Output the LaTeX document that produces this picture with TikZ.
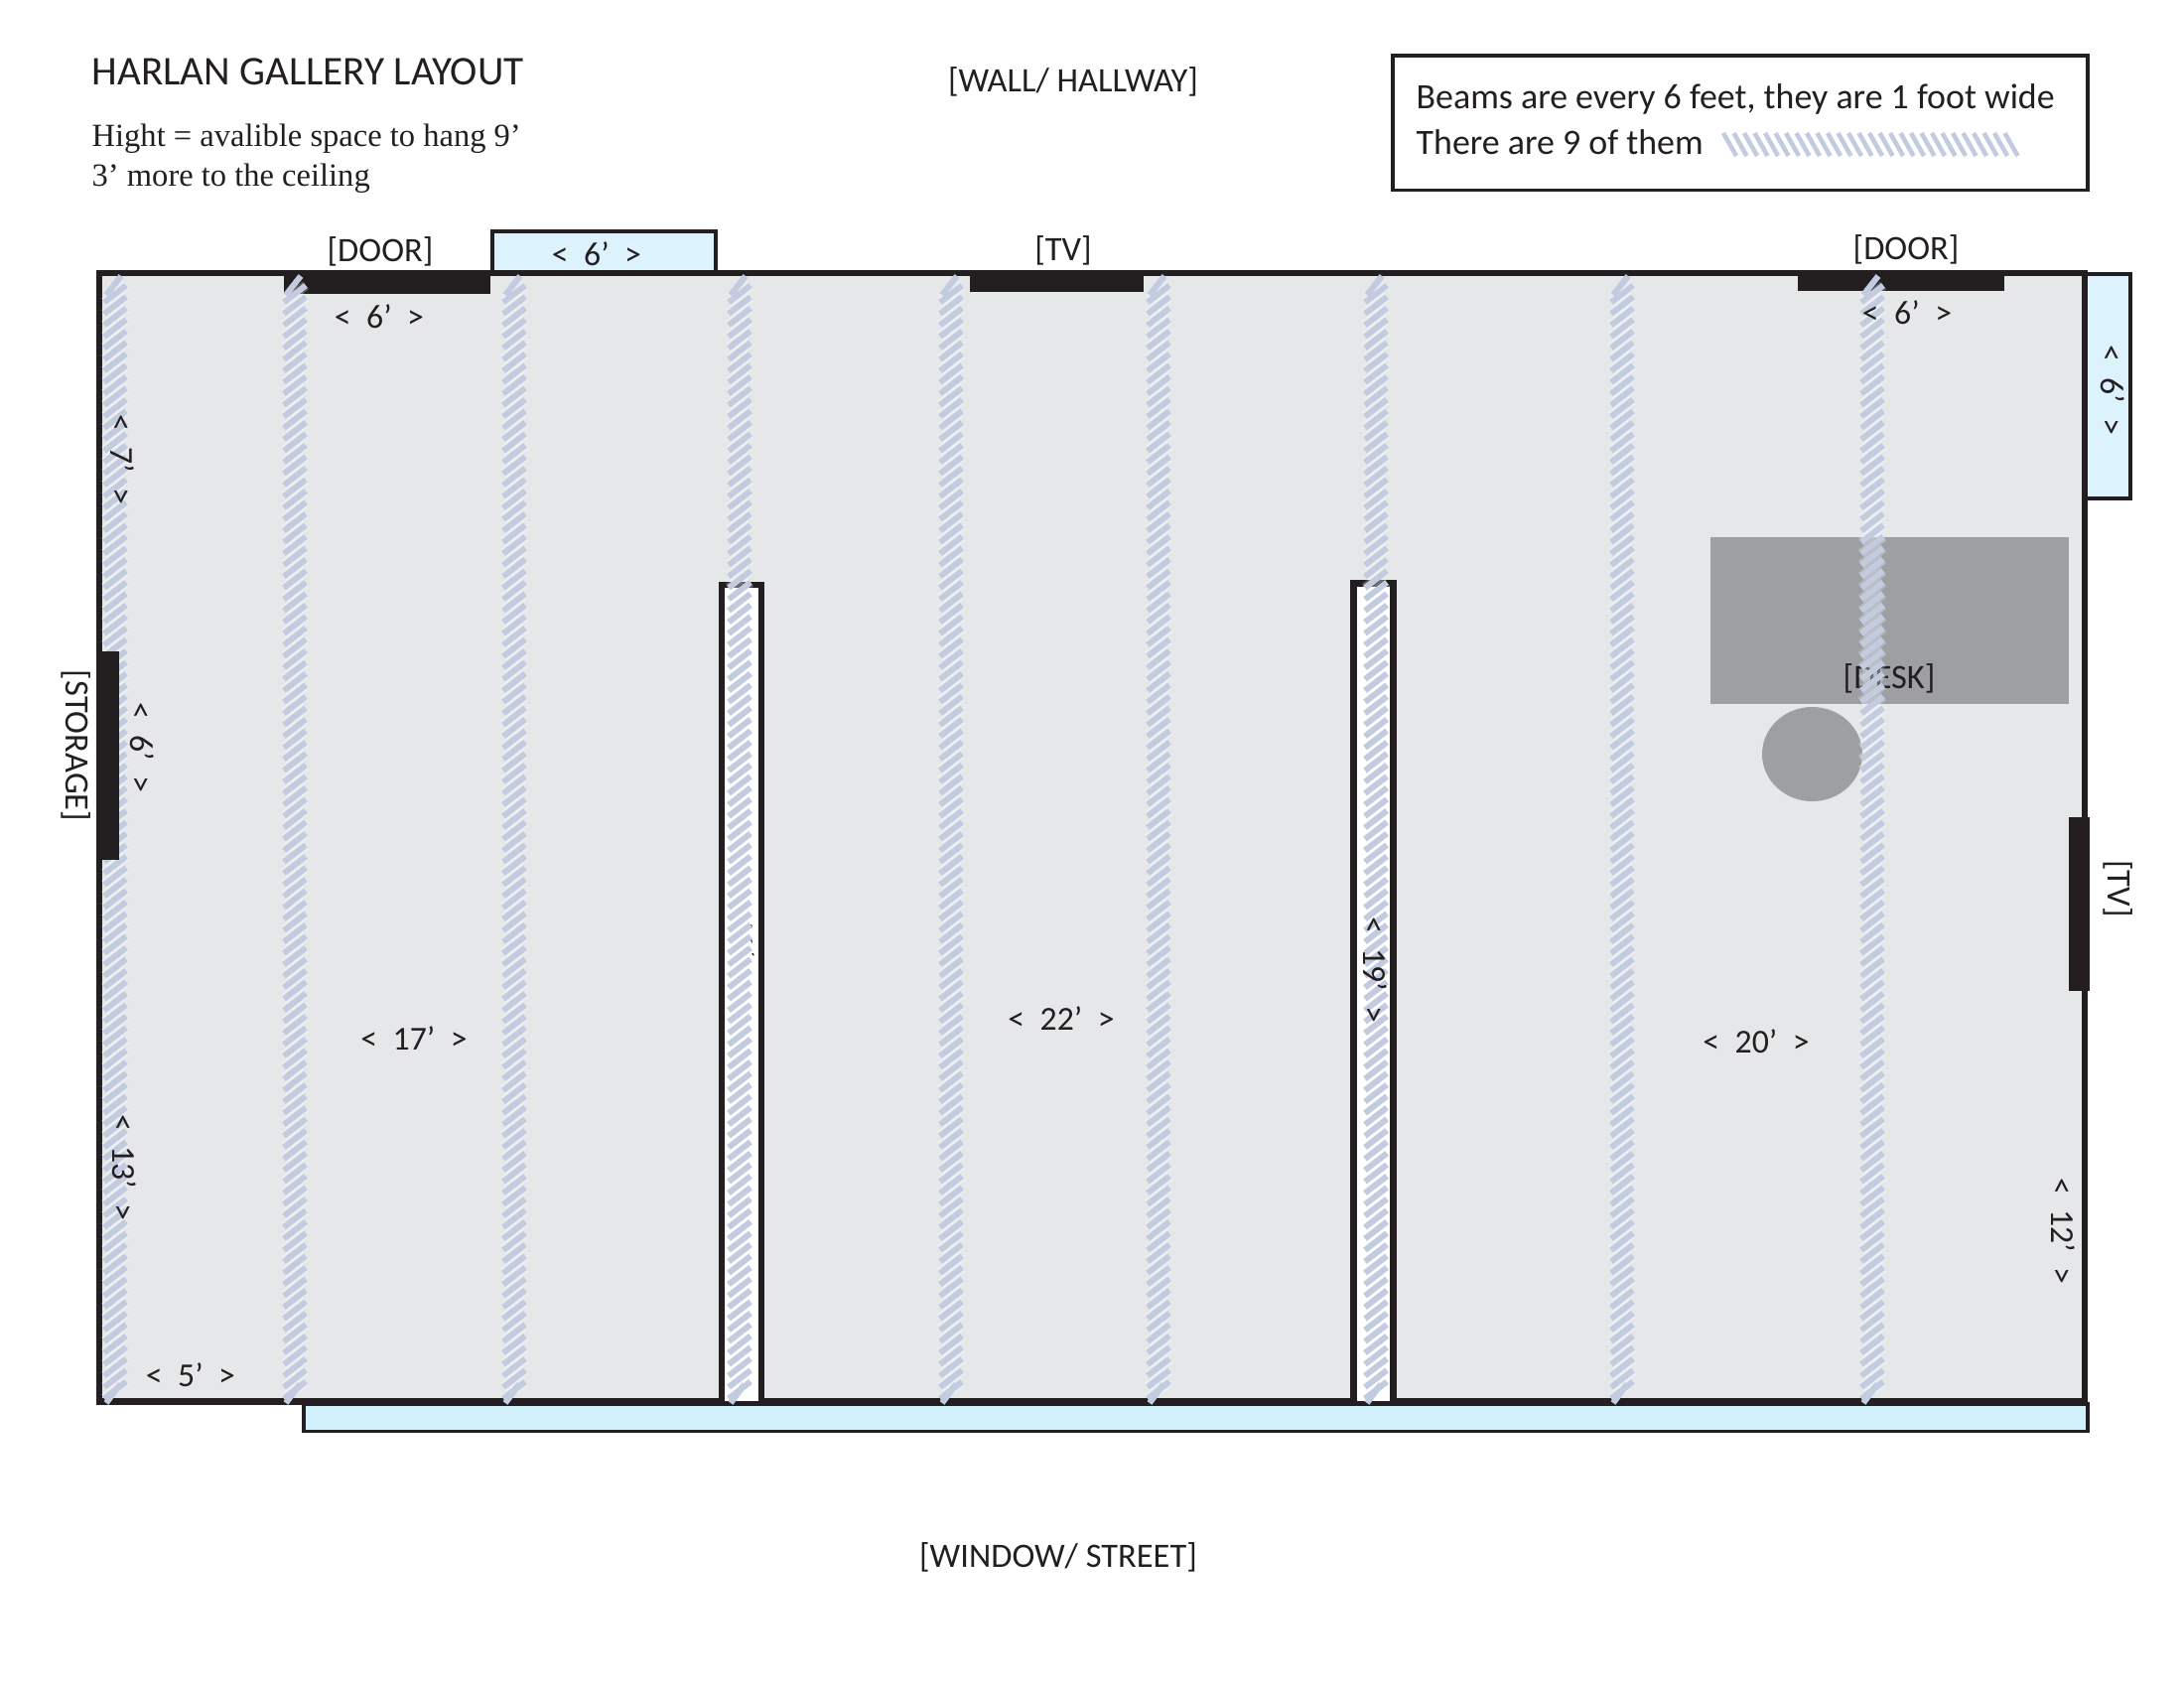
\documentclass[tikz,border=0pt]{standalone}
\usepackage{fontspec}
\setmainfont{Carlito}
\newfontfamily\noteserif{Liberation Serif}
\definecolor{wallblack}{HTML}{231F20}
\definecolor{roomgrey}{HTML}{E6E7E8}
\definecolor{deskgrey}{HTML}{9D9FA2}
\definecolor{windowblue}{HTML}{DCF2FC}
\definecolor{streetblue}{HTML}{D3F0FD}
\definecolor{beamblue}{HTML}{C3CBE0}
\newcommand{\dimgap}{\hspace{4.4pt}}
\tikzset{
    wall/.style={draw=wallblack,line width=1.85pt},
    partition/.style={draw=wallblack,line width=1.8pt,fill=white},
    windowpane/.style={draw=wallblack,line width=1pt,fill=windowblue},
    blackout/.style={fill=wallblack},
    beamline/.style={draw=beamblue,line width=1.7pt},
    beamhalo/.style={draw=white,line width=2.8pt,opacity=.25},
    tag/.style={font=\fontsize{9.8}{12}\selectfont,text=wallblack,inner sep=0pt},
    dimtag/.style={font=\fontsize{9.6}{12}\selectfont,text=wallblack,inner sep=0pt},
}
\begin{document}
\begin{tikzpicture}[x=0.01cm,y=-0.01cm]
        \useasboundingbox (0,0) rectangle (2200,1700);
        % windows behind the room
        \draw[windowpane] (496,233) rectangle (721,274);
        \draw[windowpane] (2101,276) rectangle (2146,502);
        \draw[windowpane,fill=streetblue] (306,1414) rectangle (2103,1441.5);
        % room
        \draw[wall,fill=roomgrey] (100,275) rectangle (2100,1411.5);
        % doors and tvs
        \fill[blackout] (286,272) rectangle (494,296);
        \fill[blackout] (977,272) rectangle (1152,294);
        \fill[blackout] (1811,272) rectangle (2019,293);
        \fill[blackout] (2084,823) rectangle (2105,998);
        % desk and chair
        \fill[deskgrey] (1723,541) rectangle (2084,709);
        \fill[deskgrey] (1825.5,759.5) ellipse (50.5 and 47.5);
        % partitions
        \draw[partition] (727,1411) -- (727,589) -- (767,589) -- (767,1411);
        \draw[partition] (1363.5,1411) -- (1363.5,587.5) -- (1403.5,587.5) -- (1403.5,1411);
        % these two sit under the beams
        \node[tag] (desk) at (1903,683) {[DESK]};
        \node[dimtag,rotate=-90] (partitionA) at (748,945) {<\dimgap 19’\dimgap >};
        \foreach \by in {900,911.5,...,995} {
            \draw[draw=white,line width=2pt] (735,\by+8.5) -- (757,\by-8.5);
        }
        % beams
        \foreach \bx in {116,297,518,745,958,1167,1386,1634,1886} {
            \foreach \by in {296,307.5,...,1400} {
                \draw[beamhalo] (\bx-11,\by+8.5) -- (\bx+11,\by-8.5);
                \draw[beamline] (\bx-11,\by+8.5) -- (\bx+11,\by-8.5);
            }
            \draw[beamline] (\bx-9,297) -- (\bx+6,278);
            \draw[beamline] (\bx-9,1413) -- (\bx+5,1394);
        }
        % storage door hides its beam
        \fill[blackout] (97,656) rectangle (120,866);
        % header
        \node[anchor=base west,inner sep=0pt,text=wallblack,font=\fontsize{11.7}{14}\selectfont] (title) at (92,86) {HARLAN GALLERY LAYOUT};
        \node[anchor=base west,inner sep=0pt,text=wallblack,font=\noteserif\fontsize{9.25}{11}\selectfont] (noteA) at (92,148) {Hight = avalible space to hang 9’};
        \node[anchor=base west,inner sep=0pt,text=wallblack,font=\noteserif\fontsize{9.25}{11}\selectfont] (noteB) at (92,188) {3’ more to the ceiling};
        \node[tag] (hallway) at (1081,82) {[WALL/ HALLWAY]};
        \node[tag] (street) at (1066,1568) {[WINDOW/ STREET]};
        % key
        \draw[wallblack,line width=1pt] (1403,56) rectangle (2103,191.5);
        \node[anchor=base west,inner sep=0pt,text=wallblack,font=\fontsize{10.2}{13}\selectfont] (keyA) at (1426,110) {Beams are every 6 feet, they are 1 foot wide};
        \node[anchor=base west,inner sep=0pt,text=wallblack,font=\fontsize{10.2}{13}\selectfont] (keyB) at (1426,156) {There are 9 of them};
        \foreach \kx in {1736,1746.5,...,2025} {
            \draw[draw=beamblue,line width=1.3pt] (\kx,134) -- (\kx+13,157);
        }
        % labels outside
        \node[tag] (doorA) at (383,253) {[DOOR]};
        \node[tag] (tvA) at (1071,252) {[TV]};
        \node[tag] (doorB) at (1920,251) {[DOOR]};
        \node[tag,rotate=-90] (storage) at (77,751) {[STORAGE]};
        \node[tag,rotate=-90] (tvB) at (2134,895) {[TV]};
        % dimensions
        \node[dimtag] (dimwindow) at (601,256) {<\dimgap 6’\dimgap >};
        \node[dimtag] (dimdoorA) at (382,319) {<\dimgap 6’\dimgap >};
        \node[dimtag] (dimdoorB) at (1921,315) {<\dimgap 6’\dimgap >};
        \node[dimtag,rotate=-90] (dimwindowB) at (2128,393) {<\dimgap 6’\dimgap >};
        \node[dimtag,rotate=-90] (dimstorage) at (143,753) {<\dimgap 6’\dimgap >};
        \node[dimtag,rotate=-90] (dimseven) at (123,463) {<\dimgap 7’\dimgap >};
        \node[dimtag,rotate=-90] (dimthirteen) at (125,1176) {<\dimgap 13’\dimgap >};
        \node[dimtag] (dimfive) at (192,1385) {<\dimgap 5’\dimgap >};
        \node[dimtag] (roomA) at (417,1046) {<\dimgap 17’\dimgap >};
        \node[dimtag] (roomB) at (1069,1026) {<\dimgap 22’\dimgap >};
        \node[dimtag] (roomC) at (1769,1049) {<\dimgap 20’\dimgap >};
        \node[dimtag,rotate=-90] (partitionB) at (1385,977) {<\dimgap 19’\dimgap >};
        \node[dimtag,rotate=-90] (dimtwelve) at (2078,1240) {<\dimgap 12’\dimgap >};
    \end{tikzpicture}
\end{document}
